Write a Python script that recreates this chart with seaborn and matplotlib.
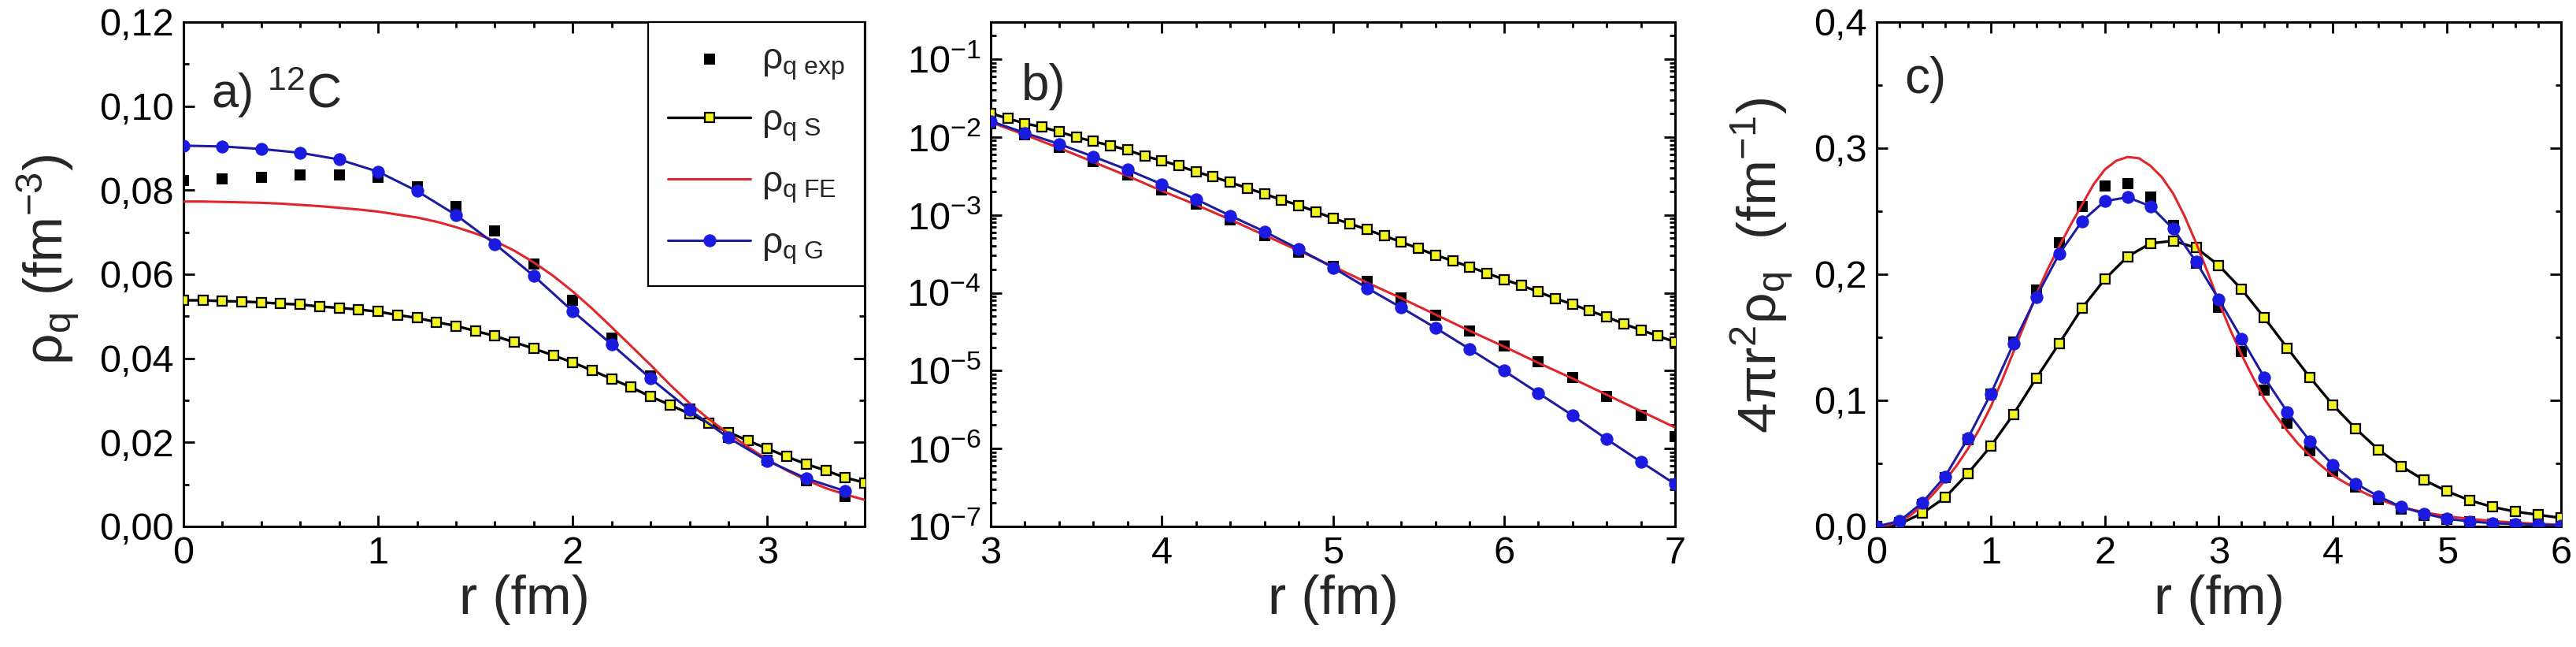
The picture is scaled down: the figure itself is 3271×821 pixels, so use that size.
import numpy as np
import pandas as pd
import matplotlib
matplotlib.use("Agg")
import matplotlib.pyplot as plt
import seaborn as sns
from matplotlib.ticker import MultipleLocator, FuncFormatter, LogLocator, NullFormatter

# ---------------- data ----------------
# panel a) linear density
r_a_pts = [0.0, 0.2, 0.4, 0.6, 0.8, 1.0, 1.2, 1.4, 1.6, 1.8, 2.0, 2.2, 2.4, 2.6, 2.8, 3.0, 3.2, 3.4]
exp_a = [0.0824, 0.0827, 0.0830, 0.0837, 0.0837, 0.0830, 0.0808, 0.0762, 0.0703, 0.0624,
         0.0539, 0.0448, 0.0359, 0.0280, 0.0212, 0.0158, 0.0108, 0.0072]
G_a = [0.0906, 0.0904, 0.0898, 0.0889, 0.0873, 0.0844, 0.0798, 0.0741, 0.0672, 0.0596,
       0.0512, 0.0433, 0.0352, 0.0277, 0.0211, 0.0156, 0.0114, 0.0084]
r_a_fine = [0.0, 0.1, 0.2, 0.3, 0.4, 0.5, 0.6, 0.7, 0.8, 0.9, 1.0, 1.1, 1.2, 1.3, 1.4, 1.5, 1.6, 1.7,
            1.8, 1.9, 2.0, 2.1, 2.2, 2.3, 2.4, 2.5, 2.6, 2.7, 2.8, 2.9, 3.0, 3.1, 3.2, 3.3, 3.4, 3.5]
S_a = [0.0538, 0.0538, 0.0536, 0.0535, 0.0533, 0.0530, 0.0528, 0.0523, 0.0520, 0.0516,
       0.0511, 0.0503, 0.0496, 0.0486, 0.0477, 0.0465, 0.0453, 0.0438, 0.0423, 0.0407,
       0.0390, 0.0371, 0.0351, 0.0331, 0.0309, 0.0289, 0.0268, 0.0245, 0.0224, 0.0204,
       0.0185, 0.0166, 0.0148, 0.0133, 0.0116, 0.0104]
FE_a = [0.0773, 0.0773, 0.0772, 0.0771, 0.0770, 0.0768, 0.0765, 0.0762, 0.0758, 0.0754,
        0.0749, 0.0742, 0.0735, 0.0725, 0.0712, 0.0697, 0.0679, 0.0656, 0.0628, 0.0596,
        0.0559, 0.0518, 0.0474, 0.0429, 0.0384, 0.0337, 0.0293, 0.0255, 0.0221, 0.0189,
        0.0159, 0.0133, 0.0110, 0.0091, 0.0076, 0.0063]

# panel b) log density tail
r_b_pts = [3.0, 3.2, 3.4, 3.6, 3.8, 4.0, 4.2, 4.4, 4.6, 4.8, 5.0, 5.2, 5.4, 5.6, 5.8, 6.0,
           6.2, 6.4, 6.6, 6.8, 7.0]
exp_b = [1.48e-2, 1.06e-2, 7.36e-3, 4.88e-3, 3.26e-3, 2.12e-3, 1.39e-3, 8.71e-4, 5.46e-4, 3.29e-4,
         2.19e-4, 1.40e-4, 8.59e-5, 5.10e-5, 3.20e-5, 2.06e-5, 1.29e-5, 8.09e-6, 4.70e-6, 2.67e-6,
         1.43e-6]
G_b = [1.60e-2, 1.13e-2, 8.15e-3, 5.61e-3, 3.80e-3, 2.48e-3, 1.59e-3, 9.77e-4, 6.12e-4, 3.65e-4,
       2.11e-4, 1.15e-4, 6.44e-5, 3.54e-5, 1.89e-5, 9.98e-6, 5.16e-6, 2.67e-6, 1.32e-6, 6.75e-7,
       3.48e-7]
FE_b = [1.55e-2, 1.07e-2, 7.24e-3, 4.79e-3, 3.16e-3, 2.04e-3, 1.35e-3, 8.71e-4, 5.50e-4, 3.47e-4,
        2.19e-4, 1.35e-4, 8.51e-5, 5.25e-5, 3.24e-5, 2.04e-5, 1.26e-5, 7.94e-6, 4.90e-6, 3.02e-6,
        1.86e-6]
r_b_fine = [3.0, 3.1, 3.2, 3.3, 3.4, 3.5, 3.6, 3.7, 3.8, 3.9, 4.0, 4.1, 4.2, 4.3, 4.4, 4.5, 4.6,
            4.7, 4.8, 4.9, 5.0, 5.1, 5.2, 5.3, 5.4, 5.5, 5.6, 5.7, 5.8, 5.9, 6.0, 6.1, 6.2, 6.3,
            6.4, 6.5, 6.6, 6.7, 6.8, 6.9, 7.0]
S_b = [2.02e-2, 1.73e-2, 1.50e-2, 1.34e-2, 1.17e-2, 1.00e-2, 8.79e-3, 7.78e-3, 6.81e-3, 5.70e-3,
       4.99e-3, 4.27e-3, 3.58e-3, 3.08e-3, 2.62e-3, 2.21e-3, 1.86e-3, 1.56e-3, 1.33e-3, 1.10e-3,
       9.04e-4, 7.74e-4, 6.47e-4, 5.37e-4, 4.50e-4, 3.70e-4, 3.05e-4, 2.57e-4, 2.15e-4, 1.79e-4,
       1.48e-4, 1.25e-4, 1.03e-4, 8.45e-5, 7.13e-5, 5.86e-5, 4.91e-5, 3.98e-5, 3.33e-5, 2.78e-5,
       2.34e-5]

# panel c) 4 pi r^2 rho
r_c_pts = [0.0, 0.2, 0.4, 0.6, 0.8, 1.0, 1.2, 1.4, 1.6, 1.8, 2.0, 2.2, 2.4, 2.6, 2.8, 3.0,
           3.2, 3.4, 3.6, 3.8, 4.0, 4.2, 4.4, 4.6, 4.8, 5.0, 5.2, 5.4, 5.6, 5.8, 6.0]
exp_c = [0.0, 0.003, 0.0177, 0.0385, 0.069, 0.105, 0.146, 0.1875, 0.225, 0.254, 0.270, 0.272,
         0.261, 0.2385, 0.209, 0.174, 0.139, 0.108, 0.082, 0.060, 0.0435, 0.031, 0.021, 0.014,
         0.009, 0.0055, 0.0035, 0.002, 0.0012, 0.0008, 0.0005]
S_c = [0.0, 0.002, 0.0104, 0.0229, 0.042, 0.0635, 0.089, 0.1177, 0.145, 0.173, 0.196, 0.214,
       0.2244, 0.2265, 0.221, 0.207, 0.188, 0.1654, 0.1415, 0.118, 0.0963, 0.0775, 0.0608,
       0.0477, 0.0367, 0.0279, 0.0206, 0.0154, 0.0117, 0.0092, 0.0067]
G_c = [0.0, 0.0042, 0.0188, 0.0396, 0.0698, 0.105, 0.145, 0.182, 0.216, 0.242, 0.258, 0.261,
       0.254, 0.236, 0.210, 0.180, 0.149, 0.118, 0.0908, 0.0675, 0.0488, 0.034, 0.0238, 0.0154,
       0.0102, 0.006, 0.004, 0.0025, 0.0019, 0.0013, 0.0008]
r_c_fine = [0.0, 0.1, 0.2, 0.3, 0.4, 0.5, 0.6, 0.7, 0.8, 0.9, 1.0, 1.1, 1.2, 1.3, 1.4, 1.5, 1.6,
            1.7, 1.8, 1.9, 2.0, 2.1, 2.2, 2.3, 2.4, 2.5, 2.6, 2.7, 2.8, 2.9, 3.0, 3.1, 3.2, 3.3,
            3.4, 3.5, 3.6, 3.7, 3.8, 3.9, 4.0, 4.1, 4.2, 4.3, 4.4, 4.5, 4.6, 4.7, 4.8, 4.9, 5.0,
            5.1, 5.2, 5.3, 5.4, 5.5, 5.6, 5.7, 5.8, 5.9, 6.0]
FE_c = [0.0, 0.001, 0.004, 0.009, 0.0167, 0.026, 0.0365, 0.048, 0.0615, 0.077, 0.0948, 0.116,
        0.1385, 0.161, 0.184, 0.204, 0.222, 0.239, 0.255, 0.271, 0.283, 0.290, 0.293, 0.292,
        0.286, 0.277, 0.264, 0.246, 0.225, 0.202, 0.178, 0.156, 0.136, 0.118, 0.101, 0.088,
        0.0758, 0.065, 0.056, 0.048, 0.0404, 0.035, 0.030, 0.0255, 0.0217, 0.0183, 0.0154,
        0.0132, 0.0113, 0.0096, 0.0081, 0.0070, 0.0060, 0.0051, 0.0043, 0.0036, 0.0030,
        0.0025, 0.0021, 0.0017, 0.0013]

legend_labels = [r'$\rho_{q\ exp}$', r'$\rho_{q\ S}$', r'$\rho_{q\ FE}$', r'$\rho_{q\ G}$']

# ---------------- style ----------------
sns.set_theme(style="ticks")
plt.rcParams['font.family'] = ['Liberation Sans', 'DejaVu Sans']
plt.rcParams['mathtext.fontset'] = 'custom'
plt.rcParams['mathtext.rm'] = 'Liberation Sans'
plt.rcParams['mathtext.it'] = 'Liberation Sans'
plt.rcParams['mathtext.sf'] = 'Liberation Sans'
plt.rcParams['mathtext.bf'] = 'Liberation Sans:bold'
plt.rcParams['mathtext.default'] = 'regular'

YEL = '#f2f21c'
BLUE_M = '#1a1ae0'
BLUE_L = '#1c1ca0'
RED = '#e0262c'

TICK_FS = 35
LAB_FS = 50

fig = plt.figure(figsize=(32.71, 8.21), dpi=100)
axa = fig.add_axes([0.0712, 0.1864, 0.2645, 0.7795])
axb = fig.add_axes([0.3846, 0.1864, 0.2657, 0.7795])
axc = fig.add_axes([0.7285, 0.1864, 0.2657, 0.7795])


def draw(ax, r_pts, ex, r_fine_s, s, r_fine_fe, fe, r_g, g, labels=None):
    lab = labels if labels else [None] * 4
    sns.scatterplot(x=r_pts, y=ex, ax=ax, marker='s', s=110, color='black',
                    edgecolor='black', linewidth=0, label=lab[0], zorder=2)
    sns.lineplot(x=r_fine_s, y=s, ax=ax, color='black', linewidth=2.4, marker='s',
                 markersize=9, markerfacecolor=YEL, markeredgecolor='black',
                 markeredgewidth=1.6, errorbar=None, label=lab[1], zorder=3)
    sns.lineplot(x=r_fine_fe, y=fe, ax=ax, color=RED, linewidth=2.2, errorbar=None,
                 label=lab[2], zorder=4)
    sns.lineplot(x=r_g, y=g, ax=ax, color=BLUE_L, linewidth=2.2, marker='o',
                 markersize=11, markerfacecolor=BLUE_M, markeredgecolor=BLUE_M,
                 errorbar=None, label=lab[3], zorder=5)


draw(axa, r_a_pts, exp_a, r_a_fine, S_a, r_a_fine, FE_a, r_a_pts, G_a, legend_labels)
draw(axb, r_b_pts, exp_b, r_b_fine, S_b, r_b_pts, FE_b, r_b_pts, G_b)
draw(axc, r_c_pts, exp_c, r_c_pts, S_c, r_c_fine, FE_c, r_c_pts, G_c)

for ax in (axa, axb, axc):
    for sp in ax.spines.values():
        sp.set_visible(True)
        sp.set_linewidth(2.2)
        sp.set_color('black')
    ax.tick_params(which='both', direction='in', top=True, right=True,
                   labelsize=TICK_FS, width=2, colors='black')
    ax.tick_params(which='major', length=10, pad=9)
    ax.tick_params(which='minor', length=5)
    ax.set_xlabel('r (fm)', fontsize=LAB_FS)
    ax.xaxis.set_label_coords(0.5, -0.095)
    ax.set_facecolor('white')
    ax.grid(False)

comma1 = FuncFormatter(lambda v, p: f'{v:.1f}'.replace('.', ','))
comma2 = FuncFormatter(lambda v, p: f'{v:.2f}'.replace('.', ','))
intfmt = FuncFormatter(lambda v, p: f'{v:.0f}')

# panel a
axa.set_xlim(0, 3.5)
axa.set_ylim(0, 0.12)
axa.xaxis.set_major_locator(MultipleLocator(1))
axa.xaxis.set_minor_locator(MultipleLocator(0.2))
axa.yaxis.set_major_locator(MultipleLocator(0.02))
axa.yaxis.set_minor_locator(MultipleLocator(0.01))
axa.yaxis.set_major_formatter(comma2)
axa.xaxis.set_major_formatter(intfmt)
axa.set_ylabel(r'$\rho_q\ (fm^{-3})$', fontsize=LAB_FS)
axa.yaxis.set_label_coords(-0.15, 0.53)
axa.text(0.04, 0.83, r'a) $^{12}$C', transform=axa.transAxes, fontsize=44)
leg = axa.legend(loc='upper right', bbox_to_anchor=(1.0, 1.0), borderaxespad=0,
                 frameon=True, fancybox=False, edgecolor='black', framealpha=1,
                 fontsize=33, handlelength=2.3, labelspacing=0.6, borderpad=0.55,
                 handletextpad=0.3, scatterpoints=1, numpoints=1)
leg.get_frame().set_linewidth(1.6)

# panel b
axb.set_yscale('log')
axb.set_xlim(3, 7)
axb.set_ylim(1e-7, 0.3)
axb.xaxis.set_major_locator(MultipleLocator(1))
axb.xaxis.set_minor_locator(MultipleLocator(0.2))
axb.xaxis.set_major_formatter(intfmt)
axb.yaxis.set_major_locator(LogLocator(base=10, numticks=12))
axb.yaxis.set_minor_locator(LogLocator(base=10, subs=np.arange(2, 10), numticks=12))
axb.yaxis.set_minor_formatter(NullFormatter())
axb.set_ylabel('')
axb.text(0.045, 0.845, 'b)', transform=axb.transAxes, fontsize=46)
if axb.get_legend():
    axb.get_legend().remove()

# panel c
axc.set_xlim(0, 6)
axc.set_ylim(0, 0.4)
axc.xaxis.set_major_locator(MultipleLocator(1))
axc.xaxis.set_minor_locator(MultipleLocator(0.2))
axc.xaxis.set_major_formatter(intfmt)
axc.yaxis.set_major_locator(MultipleLocator(0.1))
axc.yaxis.set_minor_locator(MultipleLocator(0.05))
axc.yaxis.set_major_formatter(comma1)
axc.set_ylabel(r'$4\pi r^2\rho_q\ \ (fm^{-1})$', fontsize=LAB_FS)
axc.yaxis.set_label_coords(-0.12, 0.517)
axc.text(0.041, 0.86, 'c)', transform=axc.transAxes, fontsize=46)
if axc.get_legend():
    axc.get_legend().remove()

fig.savefig('out.png', dpi=100, facecolor='white')
